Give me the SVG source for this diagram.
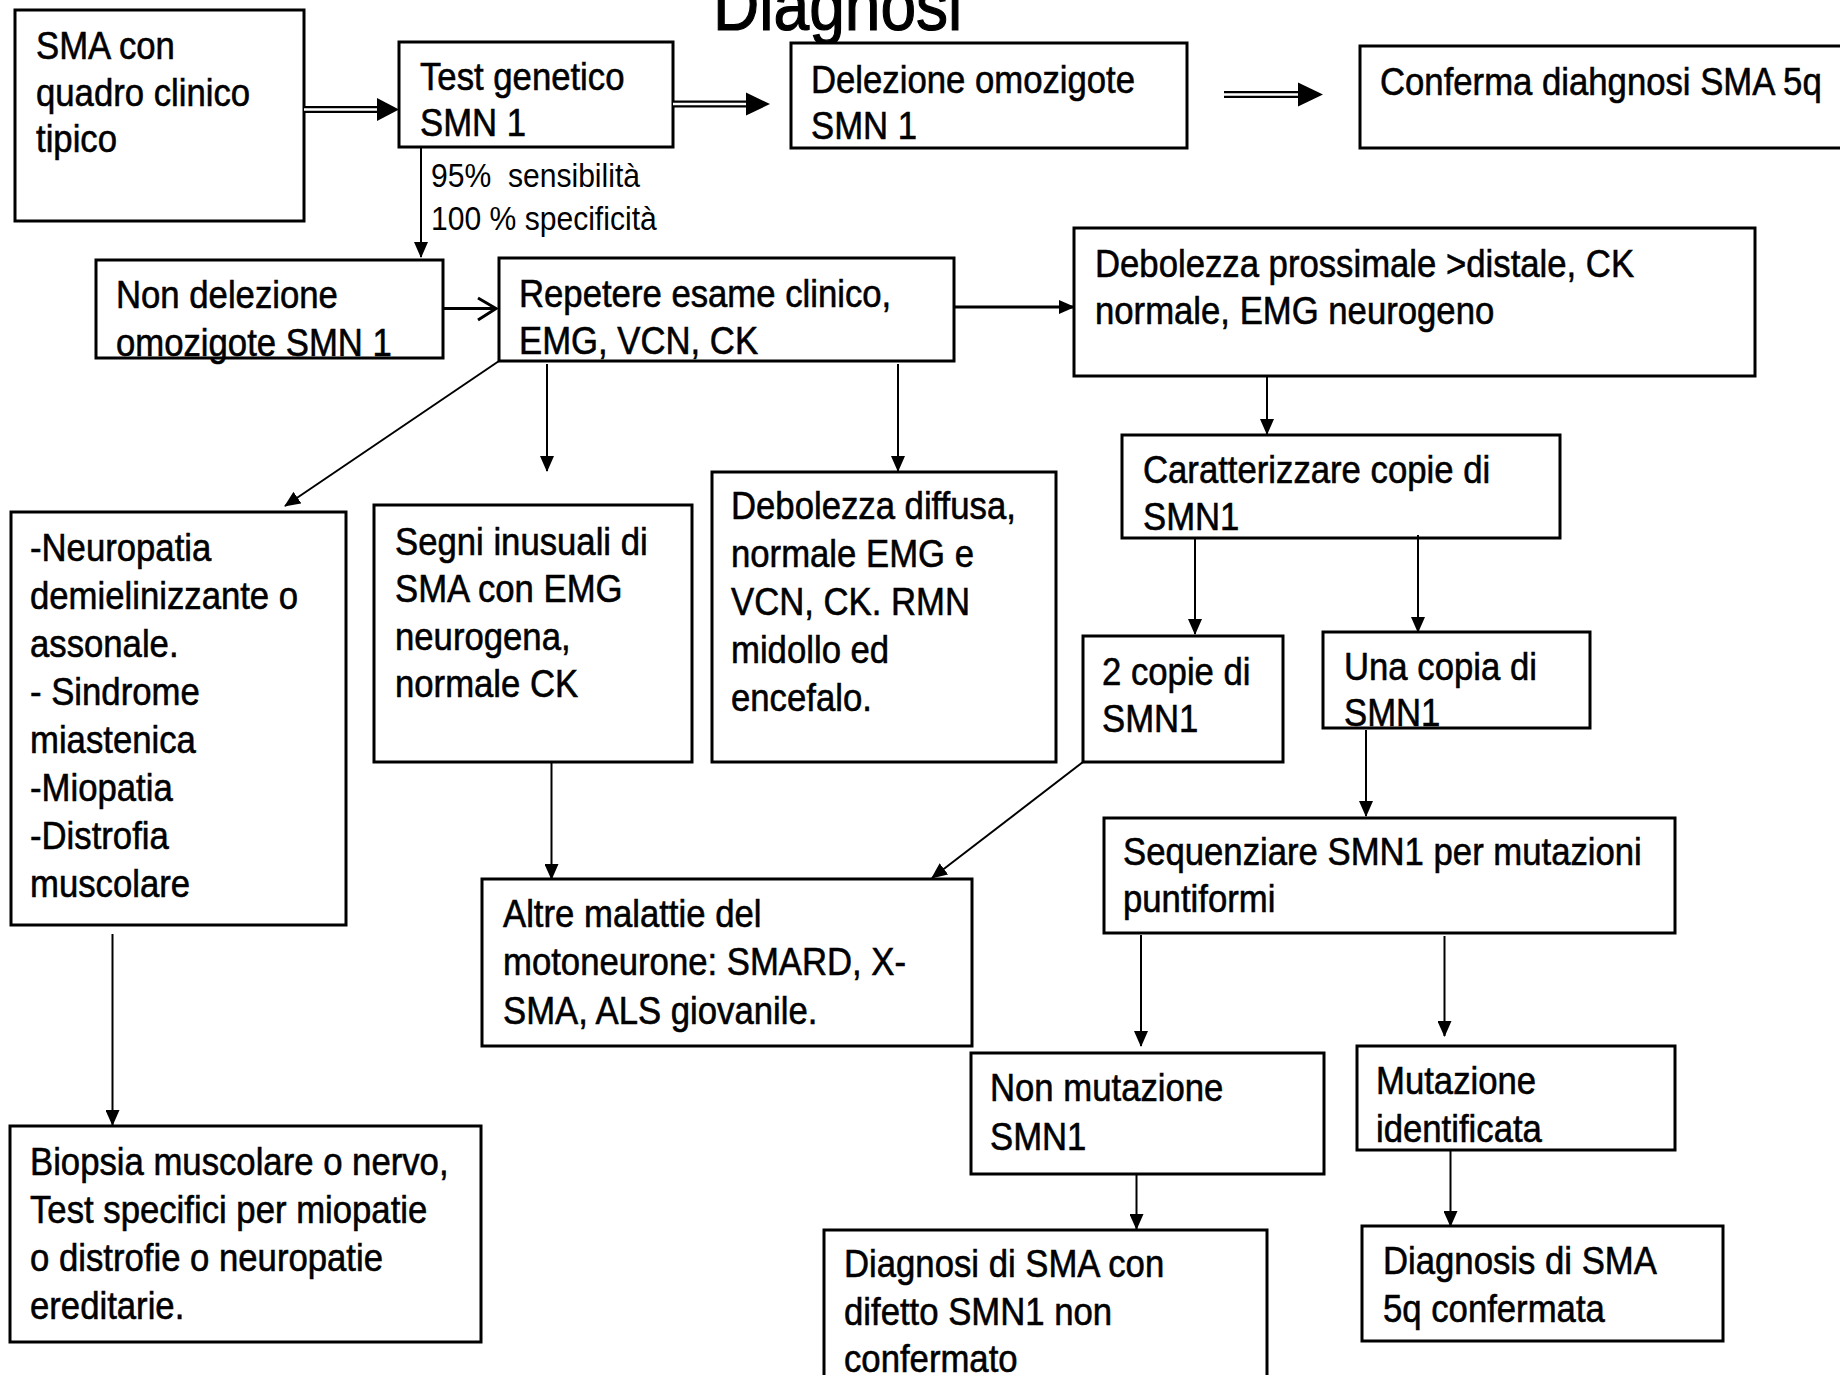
<svg xmlns="http://www.w3.org/2000/svg" width="1840" height="1375" viewBox="0 0 1840 1375">
<style>
.box{fill:#fff;stroke:#000;stroke-width:3}
.t{font-family:"Liberation Sans",Arial,sans-serif;font-size:39px;fill:#000;stroke:#000;stroke-width:0.6}
.s{font-family:"Liberation Sans",Arial,sans-serif;font-size:34px;fill:#000}
.ttl{font-family:"Liberation Sans",Arial,sans-serif;font-size:72px;fill:#000;stroke:#000;stroke-width:1.2}
.ln{stroke:#000;stroke-width:2;fill:none}
.thk{stroke:#000;stroke-width:3;fill:none}
.dbl{stroke:#000;stroke-width:7;fill:none}
.dblw{stroke:#fff;stroke-width:2.5;fill:none}
</style>
<defs>
<marker id="ah" markerUnits="userSpaceOnUse" markerWidth="16" markerHeight="14" refX="15" refY="7" orient="auto">
<path d="M0,0 L16,7 L0,14 z" fill="#000"/>
</marker>
</defs>
<rect width="1840" height="1375" fill="#fff"/>
<text class="ttl" transform="matrix(0.89 0 0 1 713 30)">Diagnosi</text>

<g id="nA"><rect class="box" x="15" y="10" width="289" height="211"/>
<text class="t" transform="matrix(0.89 0 0 1 36 0)"><tspan x="0" y="59">SMA con</tspan><tspan x="0" y="106">quadro clinico</tspan><tspan x="0" y="152">tipico</tspan></text></g>

<g id="nB"><rect class="box" x="399" y="42" width="274" height="105"/>
<text class="t" transform="matrix(0.89 0 0 1 420 0)"><tspan x="0" y="90">Test genetico</tspan><tspan x="0" y="136">SMN 1</tspan></text></g>

<g id="nC"><rect class="box" x="791" y="43" width="396" height="105"/>
<text class="t" transform="matrix(0.89 0 0 1 811 0)"><tspan x="0" y="93">Delezione omozigote</tspan><tspan x="0" y="139">SMN 1</tspan></text></g>

<g id="nD"><rect class="box" x="1360" y="46" width="490" height="102"/>
<text class="t" transform="matrix(0.89 0 0 1 1380 0)"><tspan x="0" y="95">Conferma diahgnosi SMA 5q</tspan></text></g>

<g id="nE"><rect class="box" x="96" y="260" width="347" height="98"/>
<text class="t" transform="matrix(0.89 0 0 1 116 0)"><tspan x="0" y="308">Non delezione</tspan><tspan x="0" y="356">omozigote SMN 1</tspan></text></g>

<g id="nF"><rect class="box" x="499" y="258" width="455" height="103"/>
<text class="t" transform="matrix(0.89 0 0 1 519 0)"><tspan x="0" y="307">Repetere esame clinico,</tspan><tspan x="0" y="354">EMG, VCN, CK</tspan></text></g>

<g id="nG"><rect class="box" x="1074" y="228" width="681" height="148"/>
<text class="t" transform="matrix(0.89 0 0 1 1095 0)"><tspan x="0" y="277">Debolezza prossimale &gt;distale, CK</tspan><tspan x="0" y="324">normale, EMG neurogeno</tspan></text></g>

<g id="nH"><rect class="box" x="11" y="512" width="335" height="413"/>
<text class="t" transform="matrix(0.89 0 0 1 30 0)"><tspan x="0" y="561">-Neuropatia</tspan><tspan x="0" y="609">demielinizzante o</tspan><tspan x="0" y="657">assonale.</tspan><tspan x="0" y="705">- Sindrome</tspan><tspan x="0" y="753">miastenica</tspan><tspan x="0" y="801">-Miopatia</tspan><tspan x="0" y="849">-Distrofia</tspan><tspan x="0" y="897">muscolare</tspan></text></g>

<g id="nI"><rect class="box" x="374" y="505" width="318" height="257"/>
<text class="t" transform="matrix(0.89 0 0 1 395 0)"><tspan x="0" y="555">Segni inusuali di</tspan><tspan x="0" y="602">SMA con EMG</tspan><tspan x="0" y="650">neurogena,</tspan><tspan x="0" y="697">normale CK</tspan></text></g>

<g id="nJ"><rect class="box" x="712" y="472" width="344" height="290"/>
<text class="t" transform="matrix(0.89 0 0 1 731 0)"><tspan x="0" y="519">Debolezza diffusa,</tspan><tspan x="0" y="567">normale EMG e</tspan><tspan x="0" y="615">VCN, CK. RMN</tspan><tspan x="0" y="663">midollo ed</tspan><tspan x="0" y="711">encefalo.</tspan></text></g>

<g id="nK"><rect class="box" x="1122" y="435" width="438" height="103"/>
<text class="t" transform="matrix(0.89 0 0 1 1143 0)"><tspan x="0" y="483">Caratterizzare copie di</tspan><tspan x="0" y="530">SMN1</tspan></text></g>

<g id="nL"><rect class="box" x="1083" y="636" width="200" height="126"/>
<text class="t" transform="matrix(0.89 0 0 1 1102 0)"><tspan x="0" y="685">2 copie di</tspan><tspan x="0" y="732">SMN1</tspan></text></g>

<g id="nM"><rect class="box" x="1323" y="632" width="267" height="96"/>
<text class="t" transform="matrix(0.89 0 0 1 1344 0)"><tspan x="0" y="680">Una copia di</tspan><tspan x="0" y="726">SMN1</tspan></text></g>

<g id="nN"><rect class="box" x="482" y="879" width="490" height="167"/>
<text class="t" transform="matrix(0.89 0 0 1 503 0)"><tspan x="0" y="927">Altre malattie del</tspan><tspan x="0" y="975">motoneurone: SMARD, X-</tspan><tspan x="0" y="1024">SMA, ALS giovanile.</tspan></text></g>

<g id="nO"><rect class="box" x="1104" y="818" width="571" height="115"/>
<text class="t" transform="matrix(0.89 0 0 1 1123 0)"><tspan x="0" y="865">Sequenziare SMN1 per mutazioni</tspan><tspan x="0" y="912">puntiformi</tspan></text></g>

<g id="nP"><rect class="box" x="971" y="1053" width="353" height="121"/>
<text class="t" transform="matrix(0.89 0 0 1 990 0)"><tspan x="0" y="1101">Non mutazione</tspan><tspan x="0" y="1150">SMN1</tspan></text></g>

<g id="nQ"><rect class="box" x="1357" y="1046" width="318" height="104"/>
<text class="t" transform="matrix(0.89 0 0 1 1376 0)"><tspan x="0" y="1094">Mutazione</tspan><tspan x="0" y="1142">identificata</tspan></text></g>

<g id="nR"><rect class="box" x="824" y="1230" width="443" height="200"/>
<text class="t" transform="matrix(0.89 0 0 1 844 0)"><tspan x="0" y="1277">Diagnosi di SMA con</tspan><tspan x="0" y="1325">difetto SMN1 non</tspan><tspan x="0" y="1372">confermato</tspan></text></g>

<g id="nS"><rect class="box" x="1362" y="1226" width="361" height="115"/>
<text class="t" transform="matrix(0.89 0 0 1 1383 0)"><tspan x="0" y="1274">Diagnosis di SMA</tspan><tspan x="0" y="1322">5q confermata</tspan></text></g>

<g id="nT"><rect class="box" x="10" y="1126" width="471" height="216"/>
<text class="t" transform="matrix(0.89 0 0 1 30 0)"><tspan x="0" y="1175">Biopsia muscolare o nervo,</tspan><tspan x="0" y="1223">Test specifici per miopatie</tspan><tspan x="0" y="1271">o distrofie o neuropatie</tspan><tspan x="0" y="1319">ereditarie.</tspan></text></g>

<g id="connectors">
<path class="dbl" d="M304,109.5 H378"/><path class="dblw" d="M304,109.5 H379"/><polygon points="377,98 399,109.5 377,121" fill="#000"/>
<path class="dbl" d="M673,104 H747"/><path class="dblw" d="M673,104 H748"/><polygon points="746,92.5 770,104 746,115.5" fill="#000"/>
<path class="dbl" d="M1224,94.5 H1299"/><path class="dblw" d="M1224,94.5 H1300"/><polygon points="1298,82.5 1323,94.5 1298,106.5" fill="#000"/>
<path class="ln" d="M421,147 V257" marker-end="url(#ah)"/>
<text class="s" xml:space="preserve" transform="matrix(0.885 0 0 1 431 0)"><tspan x="0" y="187">95%  sensibilità</tspan><tspan x="0" y="230">100 % specificità</tspan></text>
<path class="thk" d="M443,308.5 H496"/><path class="thk" d="M478,298 L496,308.5 L478,320"/>
<path class="thk" d="M954,307 H1074" marker-end="url(#ah)"/>
<path class="ln" d="M499,361 L285,506" marker-end="url(#ah)"/>
<path class="ln" d="M547,364 V471" marker-end="url(#ah)"/>
<path class="ln" d="M898,364 V471" marker-end="url(#ah)"/>
<path class="ln" d="M1267,376 V434" marker-end="url(#ah)"/>
<path class="ln" d="M1195,538 V634" marker-end="url(#ah)"/>
<path class="ln" d="M1418,535 V632" marker-end="url(#ah)"/>
<path class="ln" d="M1366,730 V816" marker-end="url(#ah)"/>
<path class="ln" d="M1083,762 L932,878" marker-end="url(#ah)"/>
<path class="ln" d="M551.5,762 V879" marker-end="url(#ah)"/>
<path class="ln" d="M112.5,934 V1125" marker-end="url(#ah)"/>
<path class="ln" d="M1141,935 V1046" marker-end="url(#ah)"/>
<path class="ln" d="M1444.5,936 V1036" marker-end="url(#ah)"/>
<path class="ln" d="M1136.5,1174 V1229" marker-end="url(#ah)"/>
<path class="ln" d="M1450.5,1150 V1226" marker-end="url(#ah)"/>
</g>
</svg>
